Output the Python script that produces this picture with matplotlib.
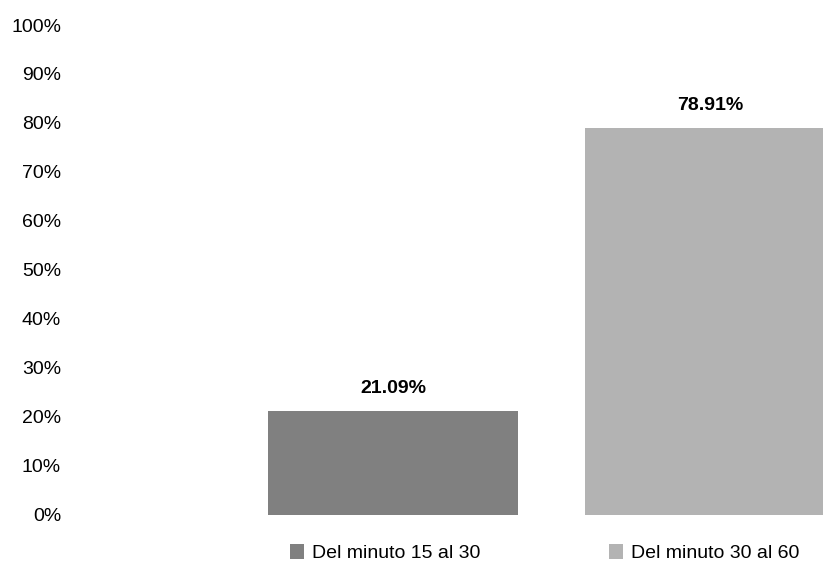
import matplotlib.pyplot as plt
from matplotlib.ticker import PercentFormatter, MultipleLocator

plt.rcParams['font.family'] = ['Liberation Sans', 'DejaVu Sans']

# Data
series = ['Del minuto 15 al 30', 'Del minuto 30 al 60']
values = [21.09, 78.91]
colors = ['#808080', '#b3b3b3']
positions = [0, 1]

fig = plt.figure(figsize=(8.23, 5.61), dpi=100)
ax = fig.add_axes([75 / 823, 46.5 / 561, 748 / 823, 489.5 / 561])

bars = []
for pos, val, col, lab in zip(positions, values, colors, series):
    b = ax.bar(pos, val, width=0.789, color=col, label=lab)
    bars.append(b)
    ax.text(pos, val + 3, f'{val:.2f}%', ha='center', va='bottom',
            fontsize=14, fontweight='bold')

ax.set_xlim(-1.003, 1.356)
ax.set_ylim(0, 100)
ax.yaxis.set_major_locator(MultipleLocator(10))
ax.yaxis.set_major_formatter(PercentFormatter(decimals=0))
ax.tick_params(axis='y', length=0, labelsize=14, pad=10)
ax.set_xticks([])
for s in ax.spines.values():
    s.set_visible(False)

fig.legend(handles=[b[0] for b in bars], labels=series, ncol=2,
           loc='lower left', bbox_to_anchor=(274 / 823, -0.03),
           frameon=False, fontsize=14, handlelength=0.75, handleheight=0.75,
           handletextpad=0.4, columnspacing=6.6, borderpad=0.3)

fig.savefig('out.png', dpi=100)
